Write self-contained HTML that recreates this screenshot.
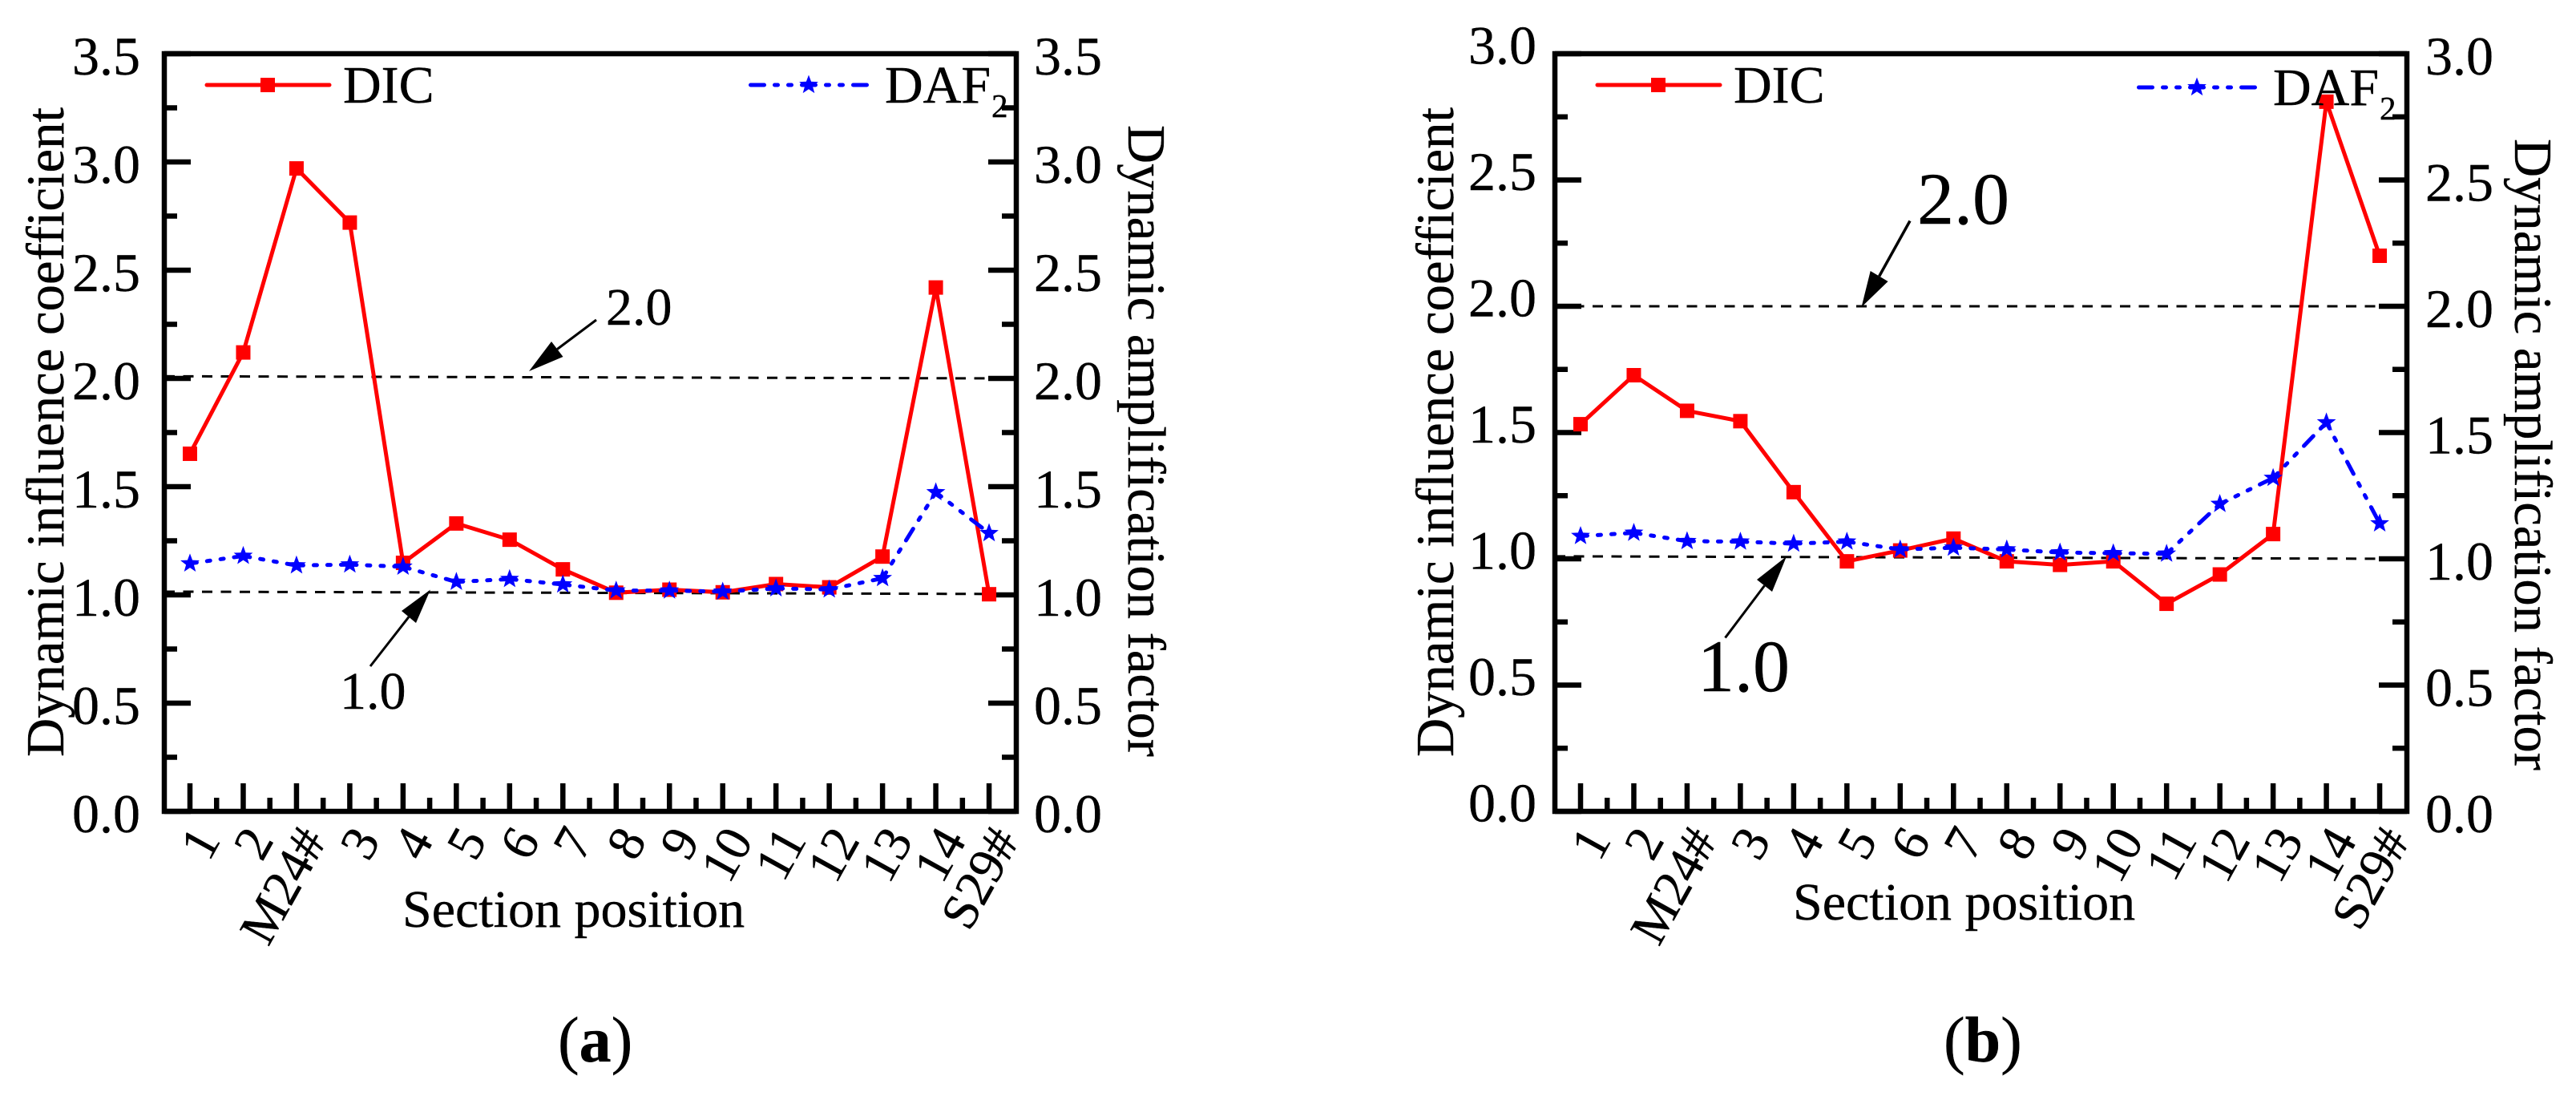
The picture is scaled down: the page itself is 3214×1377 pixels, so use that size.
<!DOCTYPE html>
<html lang="en">
<head>
<meta charset="utf-8">
<title>Dynamic influence coefficient and dynamic amplification factor</title>
<style>
html,body{margin:0;padding:0;background:#fff;width:3214px;height:1377px;overflow:hidden}
svg{display:block}
text{font-family:"Liberation Serif","Times New Roman",serif;fill:#000;stroke:#000;stroke-width:.4;font-variant-ligatures:none}
</style>
</head>
<body>
<svg id="figure" xmlns="http://www.w3.org/2000/svg" width="3214" height="1377" viewBox="0 0 3214 1377"></svg>
<script>
const categories = ["1","2","M24#","3","4","5","6","7","8","9","10","11","12","13","14","S29#"];
const panelADic = [1.652,2.12,2.97,2.72,1.148,1.33,1.255,1.118,1.01,1.024,1.012,1.05,1.035,1.177,2.42,1.003];
const panelADaf = [1.145,1.18,1.136,1.14,1.13,1.06,1.073,1.048,1.02,1.02,1.015,1.03,1.025,1.077,1.474,1.285];
const panelBDic = [1.533,1.727,1.586,1.545,1.264,0.99,1.033,1.08,0.99,0.976,0.99,0.822,0.938,1.098,2.81,2.2];
const panelBDaf = [1.09,1.103,1.07,1.068,1.06,1.068,1.037,1.044,1.037,1.025,1.022,1.02,1.217,1.32,1.54,1.14];
const panelATicks = ["0.0","0.5","1.0","1.5","2.0","2.5","3.0","3.5"];
const panelBTicks = ["0.0","0.5","1.0","1.5","2.0","2.5","3.0"];
const panelARefStart = [2.01,1.015];
const panelARefEnd = [2.0,1.004];
const panelBRefStart = [2.0,1.01];
const panelBRefEnd = [2.0,1.0];

const SVG_NS = "http://www.w3.org/2000/svg";
const root = document.getElementById("figure");
const DAF_DASH = "17 13 4 13 4 13";

function make(tag, attrs, parent) {
  const node = document.createElementNS(SVG_NS, tag);
  for (const k in attrs) node.setAttribute(k, attrs[k]);
  parent.appendChild(node);
  return node;
}
function starPoints(cx, cy, R, r) {
  const pts = [];
  for (let i = 0; i < 10; i++) {
    const a = -Math.PI / 2 + i * Math.PI / 5;
    const rad = i % 2 === 0 ? R : r;
    pts.push((cx + rad * Math.cos(a)).toFixed(1) + "," + (cy + rad * Math.sin(a)).toFixed(1));
  }
  return pts.join(" ");
}
function drawSquare(parent, cx, cy) {
  const m = make("rect", {x: cx - 9, y: cy - 9, width: 18, height: 18, fill: "#ff0000"}, parent);
  
  
}
function drawStar(parent, cx, cy) {
  const m = make("polygon", {points: starPoints(cx, cy, 12.5, 5.2), fill: "#0000ff"}, parent);
  
  
}
function drawArrow(parent, tail, tip, h1, h2, width) {
  const g = make("g", {}, parent);
  
  
  make("line", {x1: tail[0], y1: tail[1], x2: (h1[0] + h2[0]) / 2, y2: (h1[1] + h2[1]) / 2, stroke: "#000", "stroke-width": width}, g);
  make("polygon", {points: [tip, h1, h2].map(p => p.join(",")).join(" "), fill: "#000"}, g);
}

function drawPanel(p) {
  const g = make("g", {}, root);
  
  

  const yMax = Number(p.ticks[p.ticks.length - 1]);
  const yScale = v => p.bottom - (v / yMax) * (p.bottom - p.top);
  const xScale = i => p.x0 + i * p.dx;

  // frame
  const frame = make("rect", {x: p.left, y: p.top, width: p.right - p.left, height: p.bottom - p.top, fill: "none", stroke: "#000", "stroke-width": 6.5}, g);
  
  

  // y ticks and labels
  p.ticks.forEach((label, i) => {
    const v = Number(label);
    const y = yScale(v);
    const leftTick = make("line", {x1: p.left, x2: p.left + 33, y1: y, y2: y, stroke: "#000", "stroke-width": 6.5}, g);
    
    
    const rightTick = make("line", {x1: p.right, x2: p.right - 35, y1: y, y2: y, stroke: "#000", "stroke-width": 6.5}, g);
    
    

    const leftLabel = make("text", {x: p.leftLabelX, y: y + p.leftLabelDy, "font-size": 68, "text-anchor": "end"}, g);
    leftLabel.textContent = label;
    
    
    const rightLabel = make("text", {x: p.rightLabelX, y: y + 26, "font-size": 68, "text-anchor": "start"}, g);
    rightLabel.textContent = label;
    
    

    if (i < p.ticks.length - 1) {
      const ym = yScale((v + Number(p.ticks[i + 1])) / 2);
      const leftMinor = make("line", {x1: p.left, x2: p.left + 16, y1: ym, y2: ym, stroke: "#000", "stroke-width": 6.5}, g);
      
      
      const rightMinor = make("line", {x1: p.right, x2: p.right - 18, y1: ym, y2: ym, stroke: "#000", "stroke-width": 6.5}, g);
      
      
    }
  });

  // x ticks and labels
  categories.forEach((label, i) => {
    const x = xScale(i);
    const tick = make("line", {x1: x, x2: x, y1: p.bottom, y2: p.bottom - 35, stroke: "#000", "stroke-width": 6.5}, g);
    
    
    if (i < categories.length - 1) {
      const xm = xScale(i + 0.5);
      const minor = make("line", {x1: xm, x2: xm, y1: p.bottom, y2: p.bottom - 17, stroke: "#000", "stroke-width": 6.5}, g);
      
      
    }
    const ex = x + 39, ey = 1048;
    const tickText = make("text", {x: ex, y: ey, "font-size": 64, "text-anchor": "end", transform: "rotate(-61 " + ex + " " + ey + ")"}, g);
    tickText.textContent = label;
    
    
  });

  // dashed reference lines
  p.refStart.forEach((v, i) => {
    const ref = make("line", {x1: p.left, x2: p.right - 4, y1: yScale(v), y2: yScale(p.refEnd[i]), stroke: "#000", "stroke-width": 3, "stroke-dasharray": "13 10.5"}, g);
    
    
  });

  // DIC series
  const dicLine = make("polyline", {points: p.dic.map((v, i) => xScale(i) + "," + yScale(v)).join(" "), fill: "none", stroke: "#ff0000", "stroke-width": 5}, g);
  
  
  p.dic.forEach((v, i) => drawSquare(g, xScale(i), yScale(v)));

  // DAF series: the dash pattern restarts at every point
  p.daf.forEach((v, i) => {
    if (i === 0) return;
    const seg = make("line", {x1: xScale(i - 1), y1: yScale(p.daf[i - 1]), x2: xScale(i), y2: yScale(v), stroke: "#0000ff", "stroke-width": 5, "stroke-linecap": "round", "stroke-dasharray": DAF_DASH, "stroke-dashoffset": 8.5}, g);
    
    
  });
  p.daf.forEach((v, i) => drawStar(g, xScale(i), yScale(v)));

  // axis titles
  const yTitle = make("text", {x: 0, y: 0, "font-size": 67, textLength: 810, lengthAdjust: "spacingAndGlyphs", transform: "translate(" + p.leftTitleX + " 944) rotate(-90)"}, g);
  yTitle.textContent = "Dynamic influence coefficient";
  
  
  const y2Title = make("text", {x: 0, y: 0, "font-size": 67, textLength: 788, lengthAdjust: "spacingAndGlyphs", transform: "translate(" + p.rightTitleX + " " + p.rightTitleY + ") rotate(90)"}, g);
  y2Title.textContent = "Dynamic amplification factor";
  
  
  const xTitle = make("text", {x: p.xTitleX, y: p.xTitleY, "font-size": 66}, g);
  xTitle.textContent = "Section position";
  
  

  // legend
  const legendDic = make("g", {}, g);
  
  
  make("line", {x1: p.legDicX1, x2: p.legDicX1 + 153, y1: 106, y2: 106, stroke: "#ff0000", "stroke-width": 5, "stroke-linecap": "round"}, legendDic);
  drawSquare(legendDic, p.legDicX1 + 76, 106);
  const dicText = make("text", {x: p.legDicX1 + 170, y: 128, "font-size": 66}, legendDic);
  dicText.textContent = "DIC";
  
  

  const legendDaf = make("g", {}, g);
  
  
  make("line", {x1: p.legDafX1 + 2.5, x2: p.legDafX1 + 148, y1: p.legDafY, y2: p.legDafY, stroke: "#0000ff", "stroke-width": 5, "stroke-linecap": "round", "stroke-dasharray": DAF_DASH}, legendDaf);
  drawStar(legendDaf, p.legDafX1 + 75, p.legDafY);
  const dafText = make("text", {x: p.legDafX1 + 170, y: p.legDafY + 22, "font-size": 66}, legendDaf);
  dafText.textContent = "DAF";
  
  
  const dafSub = make("text", {x: p.legDafX1 + 303, y: p.legDafY + 40, "font-size": 41}, legendDaf);
  dafSub.textContent = "2";
  
  

  // annotations
  p.annotations.forEach(a => {
    const note = make("text", {x: a.x, y: a.y, "font-size": a.size}, g);
    note.textContent = a.text;
    
    
    drawArrow(g, a.tail, a.tip, a.h1, a.h2, a.width);
  });

  // caption
  const caption = make("text", {x: p.captionX, y: 1324, "font-size": 80}, g);
  
  
  const open = make("tspan", {}, caption);
  open.textContent = "(";
  const letter = make("tspan", {"font-weight": "bold"}, caption);
  letter.textContent = p.caption;
  const close = make("tspan", {}, caption);
  close.textContent = ")";
}

drawPanel({
  name: "panel-a", left: 205, right: 1268, top: 67, bottom: 1012, x0: 237, dx: 66.47,
  ticks: panelATicks, dic: panelADic, daf: panelADaf, refStart: panelARefStart, refEnd: panelARefEnd,
  leftLabelX: 175, leftLabelDy: 26, rightLabelX: 1290,
  leftTitleX: 79, rightTitleX: 1408, rightTitleY: 156,
  xTitleX: 502, xTitleY: 1156,
  legDicX1: 258, legDafX1: 934, legDafY: 106,
  caption: "a", captionX: 696,
  annotations: [
    {text: "2.0", x: 756, y: 405, size: 66, tail: [744, 399], tip: [660, 463], h1: [688, 426], h2: [702.5, 445], width: 3},
    {text: "1.0", x: 424, y: 884, size: 66, tail: [462, 831], tip: [537, 735.5], h1: [501, 762], h2: [519, 777], width: 3}
  ]
});

drawPanel({
  name: "panel-b", left: 1940, right: 3003, top: 67, bottom: 1012, x0: 1972, dx: 66.47,
  ticks: panelBTicks, dic: panelBDic, daf: panelBDaf, refStart: panelBRefStart, refEnd: panelBRefEnd,
  leftLabelX: 1917, leftLabelDy: 12.5, rightLabelX: 3026,
  leftTitleX: 1813, rightTitleX: 3138, rightTitleY: 173,
  xTitleX: 2237, xTitleY: 1147,
  legDicX1: 1993, legDafX1: 2666, legDafY: 109,
  caption: "b", captionX: 2425,
  annotations: [
    {text: "2.0", x: 2392, y: 279, size: 92, tail: [2383, 275.5], tip: [2322.5, 383], h1: [2333.7, 338], h2: [2355.6, 351], width: 3.5},
    {text: "1.0", x: 2118, y: 862, size: 92, tail: [2152.5, 795.5], tip: [2229, 694], h1: [2192, 723], h2: [2211, 738], width: 3}
  ]
});
</script>
</body>
</html>
